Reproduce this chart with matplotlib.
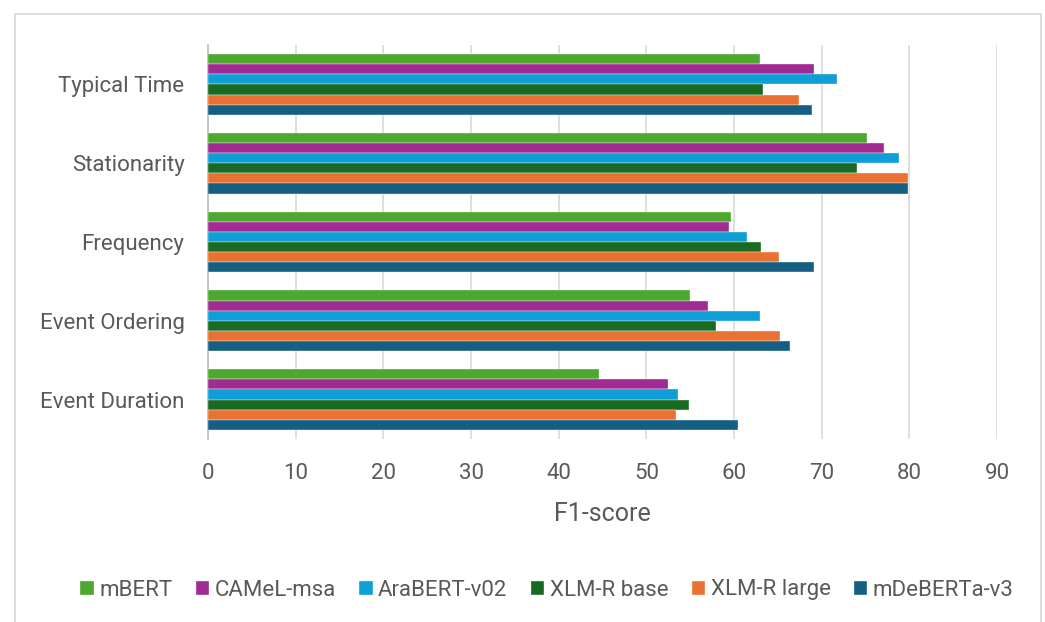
import matplotlib
matplotlib.use("Agg")
import matplotlib.pyplot as plt
from matplotlib.patches import Rectangle
import numpy as np

plt.rcParams['font.family'] = ['Roboto', 'DejaVu Sans']

# Tasks, listed bottom to top on the category axis
tasks = ["Event Duration", "Event Ordering", "Frequency", "Stationarity", "Typical Time"]

models = ["mBERT", "CAMeL-msa", "AraBERT-v02", "XLM-R base", "XLM-R large", "mDeBERTa-v3"]
colors = ["#4EA72E", "#A02B93", "#0F9ED5", "#196B24", "#E97132", "#156082"]

# F1-scores per model, in the same task order as `tasks`
mbert      = [44.6, 55.0, 59.7, 75.2, 63.0]
camel_msa  = [52.5, 57.0, 59.4, 77.1, 69.1]
arabert    = [53.6, 63.0, 61.5, 78.8, 71.8]
xlmr_base  = [54.9, 58.0, 63.1, 74.0, 63.3]
xlmr_large = [53.4, 65.3, 65.1, 79.9, 67.4]
mdeberta   = [60.4, 66.4, 69.1, 79.8, 68.9]
scores = [mbert, camel_msa, arabert, xlmr_base, xlmr_large, mdeberta]

x_ticks = [0, 10, 20, 30, 40, 50, 60, 70, 80, 90]

text_color = "#595959"
grid_color = "#D9D9D9"

fig = plt.figure(figsize=(10.45, 6.22), dpi=100)
ax = fig.add_axes([208 / 1045, 1 - 439 / 622, (997 - 208) / 1045, (439 - 45) / 622])

n = len(models)
bar_h = 0.772 / n
y = np.arange(len(tasks))
for i, (name, vals, c) in enumerate(zip(models, scores, colors)):
    # first model sits on top of each group
    offs = 0.386 - bar_h * (i + 0.5)
    ax.barh(y + offs, vals, height=bar_h, color=c, label=name,
            edgecolor="white", linewidth=0.25, zorder=3)

ax.set_xlim(0, 90)
ax.set_ylim(-0.5, len(tasks) - 0.5)
ax.set_xticks(x_ticks)
ax.set_yticks(y)
ax.set_yticklabels(tasks)
ax.tick_params(axis="both", length=0, labelsize=16, labelcolor=text_color)
ax.tick_params(axis="y", pad=17)
ax.tick_params(axis="x", pad=17)

ax.grid(axis="x", color=grid_color, linewidth=1.2, zorder=0)
ax.grid(axis="y", visible=False)
for s in ["top", "right", "bottom"]:
    ax.spines[s].set_visible(False)
ax.spines["left"].set_color("#BFBFBF")
ax.spines["left"].set_linewidth(1.2)

ax.set_xlabel("F1-score", fontsize=18, color=text_color, labelpad=13)

handles, labels = ax.get_legend_handles_labels()
fig.legend(handles, labels, loc="center", bbox_to_anchor=(547 / 1045, 1 - 590 / 622),
           ncol=n, frameon=False, fontsize=16, labelcolor=text_color,
           handlelength=0.6, handleheight=0.6, handletextpad=0.25, columnspacing=1.05)

# light frame around the whole chart
fig.patches.append(Rectangle((15 / 1045, -0.01), (1041 - 15) / 1045, 1 - 14 / 622 + 0.01,
                             transform=fig.transFigure, fill=False,
                             edgecolor=grid_color, linewidth=1.3))

fig.savefig("out.png", dpi=100, facecolor="white")
